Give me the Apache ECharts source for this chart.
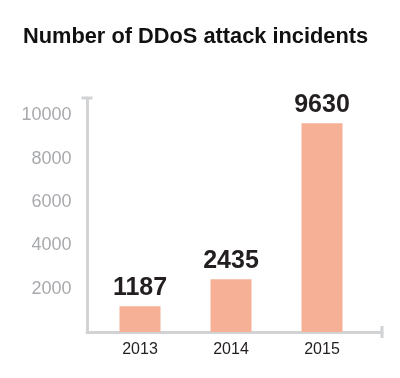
<!DOCTYPE html>
<html>
<head>
<meta charset="utf-8">
<script src="https://cdn.jsdelivr.net/npm/echarts@6/dist/echarts.min.js"></script>
<style>
  html, body { margin: 0; padding: 0; background: #fff; }
  #chart { width: 400px; height: 378px; }
</style>
</head>
<body>
<div id="chart"></div>
<script>
const years = ['2013', '2014', '2015'];
const incidents = [1187, 2435, 9630];

const font = "'Liberation Sans', Arial, sans-serif";
const axisGrey = '#d1d3d4';

let myChart = echarts.init(document.getElementById('chart'));

myChart.setOption({
  animation: false,
  title: {
    text: 'Number of DDoS attack incidents',
    left: 18,
    top: 21,
    textStyle: { fontFamily: font, fontSize: 21.8, fontWeight: 'bold', color: '#111' }
  },
  grid: [
    // bars
    { left: 94.5, right: 32.5, top: 98, bottom: 46 },
    // frame lines only
    { left: 87, right: 18, top: 98, bottom: 46 }
  ],
  xAxis: [
    {
      type: 'category',
      gridIndex: 0,
      data: years,
      axisLine: { show: false },
      axisTick: { show: false },
      axisLabel: { fontFamily: font, fontSize: 16, color: '#231f20', margin: 10 }
    },
    {
      type: 'value',
      gridIndex: 1,
      min: 0,
      max: 1,
      axisLine: {
        show: true,
        symbol: ['none', 'rect'],
        symbolSize: [12, 3],
        lineStyle: { color: axisGrey, width: 3 }
      },
      axisTick: { show: false },
      axisLabel: { show: false },
      splitLine: { show: false }
    }
  ],
  yAxis: [
    {
      type: 'value',
      gridIndex: 0,
      min: 0,
      max: 10800,
      interval: 2000,
      axisLine: { show: false },
      axisTick: { show: false },
      splitLine: { show: false },
      axisLabel: {
        fontFamily: font,
        fontSize: 18,
        color: '#a7a9ac',
        margin: 23,
        showMinLabel: false,
        showMaxLabel: false,
        formatter: function (v) { return String(v); }
      }
    },
    {
      type: 'value',
      gridIndex: 1,
      min: 0,
      max: 1,
      axisLine: {
        show: true,
        symbol: ['none', 'rect'],
        symbolSize: [11, 3],
        lineStyle: { color: axisGrey, width: 3 }
      },
      axisTick: { show: false },
      axisLabel: { show: false },
      splitLine: { show: false }
    }
  ],
  series: [
    {
      type: 'bar',
      xAxisIndex: 0,
      yAxisIndex: 0,
      data: incidents,
      barWidth: 41,
      itemStyle: { color: '#f5b096' },
      label: {
        show: true,
        position: 'top',
        distance: 6,
        formatter: '{c}',
        fontFamily: font,
        fontSize: 25,
        fontWeight: 'bold',
        color: '#231f20'
      }
    }
  ]
});

window.addEventListener('resize', myChart.resize);
</script>
</body>
</html>
